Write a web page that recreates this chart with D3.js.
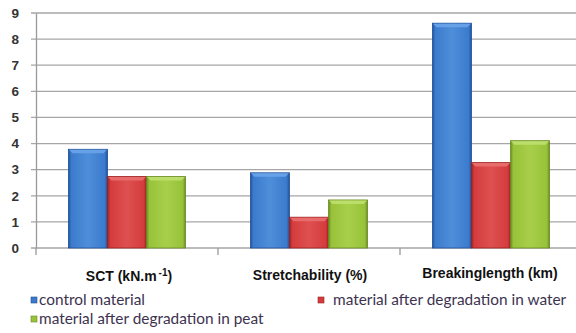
<!DOCTYPE html>
<html><head><meta charset="utf-8">
<script src="https://cdn.jsdelivr.net/npm/d3@7"></script>
<style>body{margin:0;background:#fff;}svg{display:block;}</style>
</head><body>
<script>
const categories = ["SCT", "Stretchability (%)", "Breakinglength (km)"];
const seriesNames = ["control material", "material after degradation in water", "material after degradation in peat"];
const control = [3.78, 2.88, 8.61];
const water = [2.74, 1.18, 3.27];
const peat = [2.74, 1.84, 4.11];
const yTicks = [0,1,2,3,4,5,6,7,8,9];

const W = 576, H = 333;
const svg = d3.select("body").append("svg").attr("width", W).attr("height", H);
const defs = svg.append("defs");
const colors = [
  {mid:"#3b7bcd", light:"#4f8ed9", dark:"#1f4f98", top:"#6aa4ea"},
  {mid:"#d43c3c", light:"#de5050", dark:"#9c2020", top:"#ea7070"},
  {mid:"#98c23a", light:"#a8cf4a", dark:"#6a8a22", top:"#bfe070"}
];
colors.forEach((c,i)=>{
  const g = defs.append("linearGradient").attr("id","g"+i).attr("x1","0").attr("x2","1").attr("y1","0").attr("y2","0");
  g.append("stop").attr("offset","0").attr("stop-color",c.dark);
  g.append("stop").attr("offset","0.07").attr("stop-color",c.mid);
  g.append("stop").attr("offset","0.5").attr("stop-color",c.light);
  g.append("stop").attr("offset","0.93").attr("stop-color",c.mid);
  g.append("stop").attr("offset","1").attr("stop-color",c.dark);
});

const x0 = d3.scaleBand().domain(categories).range([36, 582]).paddingInner(0).paddingOuter(0);
const x1 = d3.scaleBand().domain(seriesNames).range([0, x0.bandwidth()]).paddingOuter(0.83).paddingInner(0);
const y = d3.scaleLinear().domain([0, 9]).range([248, 13]);

// gridlines
svg.append("g").selectAll("line").data(yTicks).join("line")
  .attr("x1", 31).attr("x2", 582)
  .attr("y1", d=>y(d)).attr("y2", d=>y(d))
  .attr("stroke", "#a6a6a6").attr("stroke-width", 1.3);

// y axis
const yAxis = svg.append("g").attr("transform","translate(36,0)")
  .call(d3.axisLeft(y).tickValues(yTicks).tickSize(0).tickPadding(17));
yAxis.select(".domain").attr("stroke","#999").attr("stroke-width",1.3);
yAxis.selectAll("text").attr("font-family","Liberation Sans, Arial, sans-serif")
  .attr("font-size", 13.5).attr("font-weight","bold").attr("fill","#333");

// x category ticks
svg.append("g").selectAll("line").data(categories).join("line")
  .attr("x1", d=>x0(d)).attr("x2", d=>x0(d))
  .attr("y1", 248).attr("y2", 255)
  .attr("stroke","#999").attr("stroke-width",1.3);

const data = categories.map((c,i)=>({cat:c, vals:[control[i], water[i], peat[i]]}));
const groups = svg.append("g").selectAll("g").data(data).join("g")
  .attr("transform", d=>`translate(${x0(d.cat)},0)`);
groups.each(function(d){
  const g = d3.select(this);
  d.vals.forEach((v,i)=>{
    const bx = x1(seriesNames[i]), bw = x1.bandwidth();
    const by = y(v), bh = y(0)-y(v);
    g.append("rect").attr("x",bx).attr("y",by).attr("width",bw).attr("height",bh)
      .attr("fill","url(#g"+i+")").attr("stroke",colors[i].dark).attr("stroke-width",0.8);
    g.append("path")
      .attr("d", `M${bx+0.5},${by+0.5} L${bx+bw-0.5},${by+0.5} L${bx+bw-4},${by+4} L${bx+4},${by+4} Z`)
      .attr("fill", colors[i].top).attr("opacity",0.9);
  });
});

// category labels
const lab = svg.append("g").attr("font-family","Liberation Sans, Arial, sans-serif")
  .attr("font-size",14).attr("font-weight","bold").attr("fill","#111").attr("text-anchor","middle");
const t0 = lab.append("text").attr("x", 129).attr("y", 281);
t0.append("tspan").text("SCT (kN.m");
t0.append("tspan").attr("font-size",10).attr("dx",2).attr("dy",-5).text("-1");
t0.append("tspan").attr("dy",5).text(")");
lab.append("text").attr("x", 310).attr("y", 280).text(categories[1]);
lab.append("text").attr("x", 490).attr("y", 278).text(categories[2]);

// legend
const legendPos = [{x:31,y:297},{x:318,y:297},{x:31,y:316}];
const leg = svg.append("g").selectAll("g").data(seriesNames).join("g")
  .attr("transform",(d,i)=>`translate(${legendPos[i].x},${legendPos[i].y})`);
leg.append("rect").attr("width",6).attr("height",6).attr("fill",(d,i)=>colors[i].mid)
  .attr("stroke",(d,i)=>colors[i].dark).attr("stroke-width",0.6);
leg.append("text").attr("x",(d,i)=> i===1 ? 15 : 8).attr("y",8)
  .attr("font-family","Lato, 'Open Sans', sans-serif").attr("font-size",15.4)
  .attr("fill","#3d3350").text(d=>d);
</script>
</body></html>
